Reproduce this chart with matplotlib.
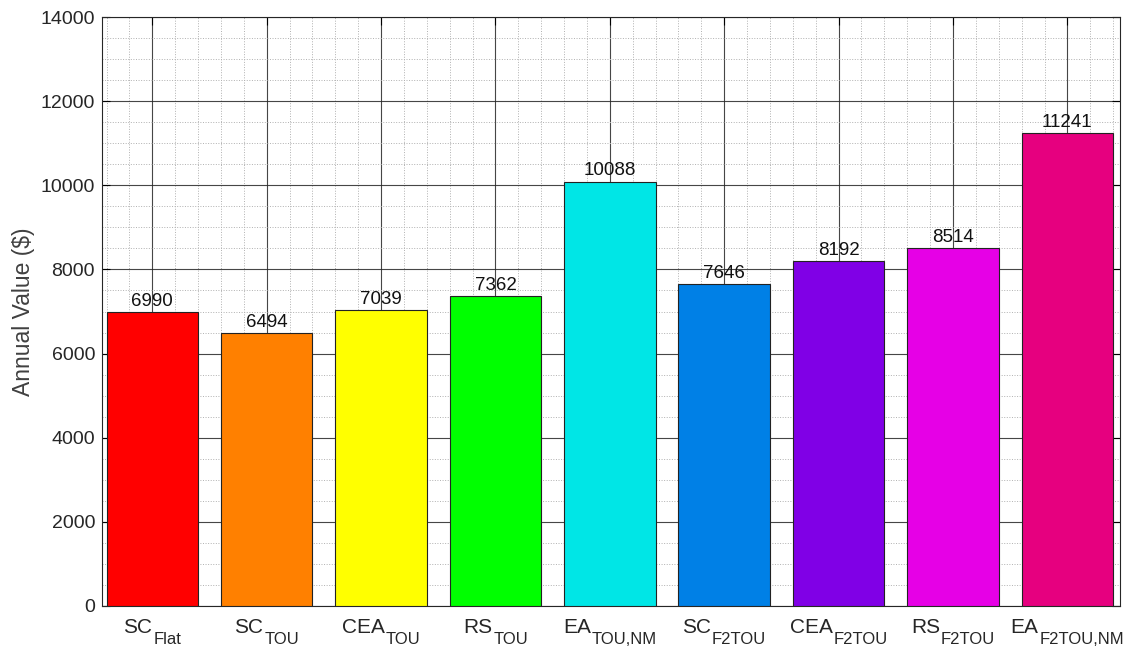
import matplotlib
matplotlib.use("Agg")
import matplotlib.pyplot as plt
from matplotlib.ticker import MultipleLocator
from matplotlib.transforms import offset_copy

plt.rcParams['font.family'] = ['Liberation Sans', 'DejaVu Sans']

names = ['SC', 'SC', 'CEA', 'RS', 'EA', 'SC', 'CEA', 'RS', 'EA']
subs = ['Flat', 'TOU', 'TOU', 'TOU', 'TOU,NM', 'F2TOU', 'F2TOU', 'F2TOU', 'F2TOU,NM']
values = [6990, 6494, 7039, 7362, 10088, 7646, 8192, 8514, 11241]
colors = ['#FF0000', '#FF8000', '#FFFF00', '#00FF00', '#00E6E6',
          '#0080E6', '#8000E6', '#E600E6', '#E6007F']

x = list(range(1, len(values) + 1))
DPI = 100
PT = 72.0 / DPI  # points per pixel

fig = plt.figure(figsize=(11.27, 6.47), dpi=DPI)
ax = fig.add_axes([102/1127, 1 - 606/647, (1120-102)/1127, (606-17)/647])

ax.bar(x, values, width=0.8, color=colors, edgecolor='#222222', linewidth=0.8, zorder=3)
for xi, v in zip(x, values):
    ax.annotate(str(v), (xi, v), xytext=(0, 4.5), textcoords='offset points',
                ha='center', va='baseline', fontsize=13.5, color='#111111', zorder=4)

ax.set_xlim(0.56, 9.46)
ax.set_ylim(0, 14000)
ax.set_xticks(x)
ax.set_xticklabels([''] * len(x))
ax.yaxis.set_major_locator(MultipleLocator(2000))
ax.yaxis.set_minor_locator(MultipleLocator(500))
ax.xaxis.set_minor_locator(MultipleLocator(0.2))
ax.tick_params(axis='y', labelsize=14, labelcolor='#262626', pad=5)
ax.tick_params(which='both', direction='in', top=True, right=True)
ax.tick_params(which='major', length=6, width=0.8)
ax.tick_params(which='minor', length=0)
ax.set_ylabel('Annual Value ($)', fontsize=16.5, color='#404040', labelpad=4)

ax.grid(which='major', color='#262626', linewidth=0.8, alpha=0.85, zorder=0)
ax.grid(which='minor', color='#b0b0b0', linestyle=':', linewidth=0.7, zorder=0)
ax.set_axisbelow(True)
for s in ax.spines.values():
    s.set_color('#262626')
    s.set_linewidth(0.8)

# Category labels with subscripts: main text plus a smaller, lowered subscript
trans = ax.get_xaxis_transform()
renderer = fig.canvas.get_renderer()
main_size, sub_size = 15, 12
for xi, n, s in zip(x, names, subs):
    tm = ax.text(xi, 0, n, transform=trans, fontsize=main_size, color='#262626',
                 ha='left', va='baseline', clip_on=False)
    ts = ax.text(xi, 0, s, transform=trans, fontsize=sub_size, color='#262626',
                 ha='left', va='baseline', clip_on=False)
    wm = tm.get_window_extent(renderer).width
    ws = ts.get_window_extent(renderer).width
    gap = 1
    total = wm + gap + ws
    left = -total / 2
    tm.set_transform(offset_copy(trans, fig, x=left * PT, y=-27 * PT, units='points'))
    ts.set_transform(offset_copy(trans, fig, x=(left + wm + gap) * PT, y=-38 * PT,
                                 units='points'))

fig.savefig('out.png', dpi=DPI)
